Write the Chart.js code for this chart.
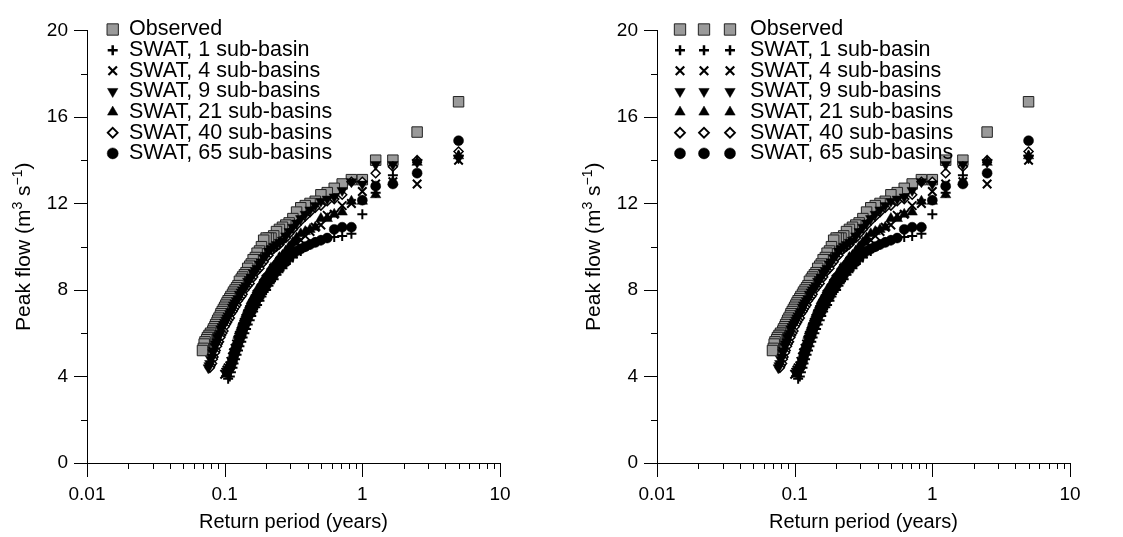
<!DOCTYPE html>
<html>
<head>
<meta charset="utf-8">
<script src="https://cdn.jsdelivr.net/npm/chart.js@4.4.1/dist/chart.umd.min.js"></script>
<style>
  html, body { margin: 0; padding: 0; background: #fff; }
  #wrap { position: relative; width: 1123px; height: 537px; overflow: hidden; }
  canvas { position: absolute; top: 0; }
  #left { left: 0; }
  #right { left: 570px; }
</style>
</head>
<body>
<div id="wrap">
  <canvas id="left" width="553" height="537"></canvas>
  <canvas id="right" width="553" height="537"></canvas>
</div>
<script>
// return period (years) of each ranked peak, largest first
const returnPeriod = [
  5, 2.5, 1.667, 1.25, 1, 0.833, 0.714, 0.625, 0.556, 0.5,
  0.455, 0.417, 0.385, 0.357, 0.333, 0.313, 0.294, 0.278, 0.263, 0.25,
  0.238, 0.227, 0.217, 0.208, 0.2, 0.192, 0.185, 0.179, 0.172, 0.167,
  0.161, 0.156, 0.152, 0.147, 0.143, 0.139, 0.135, 0.132, 0.128, 0.125,
  0.122, 0.119, 0.116, 0.114, 0.111, 0.109, 0.106, 0.104, 0.102, 0.1,
  0.098, 0.096, 0.094, 0.093, 0.091, 0.089, 0.088, 0.086, 0.085, 0.083,
  0.082, 0.081, 0.079, 0.078, 0.077, 0.076, 0.075, 0.074, 0.072, 0.071,
  0.070, 0.069
];

// peak flow (m3/s), same ranking
const observed = [
  16.7, 15.3, 14.0, 14.0, 13.1, 13.1, 12.9, 12.7, 12.5, 12.4,
  12.1, 12.0, 11.9, 11.8, 11.6, 11.3, 11.1, 11.0, 10.9, 10.8,
  10.7, 10.5, 10.4, 10.4, 10.4, 10.3, 10.0, 9.8, 9.7, 9.5,
  9.4, 9.2, 9.1, 9.0, 8.8, 8.7, 8.6, 8.5, 8.4, 8.2,
  8.1, 8.0, 7.9, 7.8, 7.7, 7.6, 7.5, 7.4, 7.3, 7.2,
  7.1, 7.0, 6.9, 6.8, 6.7, 6.6, 6.5, 6.4, 6.3, 6.2,
  6.1, 6.0, 6.0, 5.9, 5.9, 5.8, 5.8, 5.7, 5.6, 5.5, 5.3, 5.2
];
const swat1 = [
  14.2, 13.9, 13.3, 12.5, 11.5, 10.6, 10.5, 10.45, 10.4, 10.3,
  10.2, 10.1, 10.0, 9.8, 9.7, 9.5, 9.4, 9.2, 9.0, 8.9,
  8.7, 8.5, 8.4, 8.2, 8.0, 7.9, 7.7, 7.5, 7.3, 7.2,
  7.0, 6.8, 6.6, 6.4, 6.2, 6.0, 5.8, 5.6, 5.4, 5.2,
  5.0, 4.8, 4.6, 4.4, 4.2, 4.0, 3.9
];
const swat4 = [
  14.0, 12.9, 13.0, 12.9, 12.55, 12.0, 11.9, 11.5, 11.45, 11.0,
  10.9, 10.7, 10.5, 10.3, 10.2, 10.0, 9.8, 9.6, 9.5, 9.3,
  9.1, 9.0, 8.8, 8.6, 8.5, 8.3, 8.1, 7.9, 7.8, 7.6,
  7.4, 7.2, 7.1, 6.9, 6.7, 6.5, 6.3, 6.1, 5.9, 5.7,
  5.5, 5.3, 5.1, 4.9, 4.7, 4.5, 4.4, 4.3, 4.2, 4.1
];
const swat9 = [
  14.1, 13.9, 13.8, 13.8, 12.9, 13.0, 12.6, 12.3, 12.2, 12.1,
  11.9, 11.7, 11.5, 11.3, 11.1, 10.9, 10.7, 10.5, 10.3, 10.2,
  10.1, 10.0, 9.9, 9.8, 9.6, 9.5, 9.3, 9.2, 9.0, 8.9,
  8.8, 8.6, 8.5, 8.4, 8.2, 8.1, 8.0, 7.9, 7.8, 7.6,
  7.5, 7.4, 7.3, 7.2, 7.0, 6.9, 6.8, 6.7, 6.6, 6.5,
  6.4, 6.3, 6.2, 6.0, 5.9, 5.8, 5.6, 5.5, 5.4, 5.2,
  5.1, 4.9, 4.8, 4.6, 4.5, 4.4
];
const swat21 = [
  14.2, 13.9, 13.0, 12.4, 12.1, 12.1, 11.6, 11.5, 11.3, 11.3,
  10.9, 10.8, 10.7, 10.6, 10.4, 10.2, 10.0, 9.8, 9.6, 9.5,
  9.3, 9.1, 9.0, 8.8, 8.6, 8.5, 8.3, 8.1, 8.0, 7.8,
  7.6, 7.5, 7.3, 7.1, 6.9, 6.7, 6.5, 6.3, 6.1, 5.9,
  5.6, 5.4, 5.2, 4.9, 4.7, 4.5, 4.3, 4.1
];
const swat40 = [
  14.4, 14.0, 13.7, 13.4, 13.0, 13.0, 12.4, 12.2, 12.1, 11.9,
  11.8, 11.6, 11.4, 11.2, 11.0, 10.8, 10.6, 10.4, 10.3, 10.1,
  10.0, 9.9, 9.8, 9.6, 9.5, 9.3, 9.2, 9.0, 8.9, 8.8,
  8.6, 8.5, 8.3, 8.2, 8.1, 8.0, 7.8, 7.7, 7.6, 7.5,
  7.3, 7.2, 7.1, 7.0, 6.9, 6.7, 6.6, 6.5, 6.4, 6.3,
  6.1, 6.0, 5.9, 5.8, 5.6, 5.5, 5.4, 5.2, 5.1, 4.9,
  4.8, 4.6, 4.5, 4.4
];
const swat65 = [
  14.9, 13.4, 12.9, 12.8, 12.15, 10.9, 10.9, 10.8, 10.4, 10.3,
  10.2, 10.1, 10.0, 9.9, 9.8, 9.7, 9.5, 9.3, 9.2, 9.0,
  8.9, 8.7, 8.5, 8.4, 8.2, 8.1, 7.9, 7.7, 7.6, 7.4,
  7.2, 7.0, 6.9, 6.7, 6.5, 6.3, 6.1, 5.9, 5.7, 5.5,
  5.3, 5.1, 4.9, 4.7, 4.5, 4.4, 4.3, 4.2
];

const seriesLabels = [
  "Observed", "SWAT, 1 sub-basin", "SWAT, 4 sub-basins", "SWAT, 9 sub-basins",
  "SWAT, 21 sub-basins", "SWAT, 40 sub-basins", "SWAT, 65 sub-basins"
];

// axis ticks
const xMajorTicks = [0.01, 0.1, 1, 10];
const xMajorLabels = ["0.01", "0.1", "1", "10"];
const xMinorSteps = [2, 3, 4, 5, 6, 7, 8, 9];
const yTicks = [0, 2, 4, 6, 8, 10, 12, 14, 16, 18, 20];
const yLabelTicks = [0, 4, 8, 12, 16, 20];

const FONT = "'Liberation Sans', Arial, Helvetica, sans-serif";
Chart.defaults.font.family = FONT;
Chart.defaults.color = "#000";

function pts(values) {
  return values.map((v, i) => ({ x: returnPeriod[i], y: v }));
}

function xTickList() {
  const list = [];
  xMajorTicks.forEach((d, i) => {
    list.push({ value: d, major: true });
    if (i < xMajorTicks.length - 1) xMinorSteps.forEach(s => list.push({ value: +(d * s).toPrecision(3), major: false }));
  });
  return list;
}

// tick marks: long for labelled ticks, short otherwise
const tickMarks = {
  id: "tickMarks",
  afterDraw(chart) {
    const { ctx, scales: { x, y } } = chart;
    ctx.save();
    ctx.strokeStyle = "#000";
    ctx.lineWidth = 1;
    ctx.beginPath();
    x.ticks.forEach(t => {
      const px = Math.round(x.getPixelForValue(t.value)) + 0.5;
      ctx.moveTo(px, y.bottom);
      ctx.lineTo(px, y.bottom + (t.major ? 14 : 6));
    });
    y.ticks.forEach(t => {
      const py = Math.round(y.getPixelForValue(t.value)) + 0.5;
      ctx.moveTo(x.left, py);
      ctx.lineTo(x.left - (yLabelTicks.includes(t.value) ? 13 : 6), py);
    });
    ctx.stroke();
    ctx.restore();
  }
};

// axis titles (y title has superscripts)
const axisTitles = {
  id: "axisTitles",
  afterDraw(chart) {
    const { ctx, chartArea: a } = chart;
    ctx.save();
    ctx.fillStyle = "#000";
    ctx.font = "20px " + FONT;
    ctx.textAlign = "center";
    ctx.textBaseline = "middle";
    ctx.fillText("Return period (years)", (a.left + a.right) / 2, 522);

    const parts = [["Peak flow (m", 0], ["3", 1], [" s", 0], ["\u22121", 1], [")", 0]];
    const fontOf = p => (p[1] ? "14px " : "21px ") + FONT;
    let total = 0;
    parts.forEach(p => { ctx.font = fontOf(p); total += ctx.measureText(p[0]).width; });
    ctx.translate(30, (a.top + a.bottom) / 2);
    ctx.rotate(-Math.PI / 2);
    ctx.textAlign = "left";
    ctx.textBaseline = "alphabetic";
    let u = -total / 2;
    parts.forEach(p => {
      ctx.font = fontOf(p);
      ctx.fillText(p[0], u, p[1] ? -8 : 0);
      u += ctx.measureText(p[0]).width;
    });
    ctx.restore();
  }
};

// legend inside the plot area, markers drawn with Chart.js point helper
const insideLegend = {
  id: "insideLegend",
  afterDraw(chart, args, opts) {
    const ctx = chart.ctx;
    chart.data.datasets.forEach((ds, i) => {
      const yRow = opts.top + i * opts.gap;
      opts.markerX.forEach(mx => {
        ctx.save();
        ctx.fillStyle = ds.pointBackgroundColor;
        ctx.strokeStyle = ds.pointBorderColor;
        ctx.lineWidth = ds.legendBorder;
        Chart.helpers.drawPoint(ctx, {
          pointStyle: ds.pointStyle,
          rotation: ds.pointRotation || 0,
          radius: ds.legendRadius,
          borderWidth: ds.legendBorder
        }, mx, yRow);
        ctx.restore();
      });
      ctx.save();
      ctx.fillStyle = "#000";
      ctx.font = "21.5px " + FONT;
      ctx.textBaseline = "middle";
      ctx.fillText(ds.label, opts.textX, yRow);
      ctx.restore();
    });
  }
};

function makeChart(id, markerX, textX) {
  const datasets = [
    { label: seriesLabels[0], data: pts(observed), order: 1, pointStyle: "rect", pointRadius: 7.4,
      pointBackgroundColor: "#9a9a9a", pointBorderColor: "#222", pointBorderWidth: 1,
      legendRadius: 8, legendBorder: 1 },
    { label: seriesLabels[1], data: pts(swat1), order: 0, pointStyle: "cross", pointRadius: 5,
      pointBackgroundColor: "#000", pointBorderColor: "#000", pointBorderWidth: 2,
      legendRadius: 5, legendBorder: 2.5 },
    { label: seriesLabels[2], data: pts(swat4), order: 0, pointStyle: "crossRot", pointRadius: 6,
      pointBackgroundColor: "#000", pointBorderColor: "#000", pointBorderWidth: 2,
      legendRadius: 6, legendBorder: 2.2 },
    { label: seriesLabels[3], data: pts(swat9), order: 0, pointStyle: "triangle", pointRotation: 180, pointRadius: 6,
      pointBackgroundColor: "#000", pointBorderColor: "#000", pointBorderWidth: 0.5,
      legendRadius: 6, legendBorder: 0.5 },
    { label: seriesLabels[4], data: pts(swat21), order: 0, pointStyle: "triangle", pointRadius: 6,
      pointBackgroundColor: "#000", pointBorderColor: "#000", pointBorderWidth: 0.5,
      legendRadius: 6, legendBorder: 0.5 },
    { label: seriesLabels[5], data: pts(swat40), order: 0, pointStyle: "rectRot", pointRadius: 4.5,
      pointBackgroundColor: "#fff", pointBorderColor: "#000", pointBorderWidth: 1.5,
      legendRadius: 5, legendBorder: 1.8 },
    { label: seriesLabels[6], data: pts(swat65), order: 0, pointStyle: "circle", pointRadius: 5,
      pointBackgroundColor: "#000", pointBorderColor: "#000", pointBorderWidth: 0.5,
      legendRadius: 5.5, legendBorder: 0.5 }
  ];

  return new Chart(document.getElementById(id), {
    type: "scatter",
    data: { datasets },
    options: {
      responsive: false,
      animation: false,
      events: [],
      layout: { padding: { top: 20, right: 53, bottom: 0, left: 0 } },
      scales: {
        x: {
          type: "logarithmic",
          position: "bottom",
          min: 0.01,
          max: 10,
          grid: { display: false, drawTicks: false },
          border: { display: true, color: "#000", width: 1 },
          afterBuildTicks: scale => { scale.ticks = xTickList(); },
          afterFit: scale => { scale.height = 74; },
          ticks: {
            autoSkip: false,
            maxRotation: 0,
            padding: 20,
            font: { size: 19 },
            callback: (v, i, ticks) => {
              const k = xMajorTicks.indexOf(ticks[i].value);
              return k >= 0 ? xMajorLabels[k] : "";
            }
          }
        },
        y: {
          min: 0,
          max: 20,
          grid: { display: false, drawTicks: false },
          border: { display: true, color: "#000", width: 1 },
          afterBuildTicks: scale => { scale.ticks = yTicks.map(v => ({ value: v })); },
          afterFit: scale => { scale.width = 87; },
          ticks: {
            padding: 19,
            font: { size: 19 },
            callback: v => (yLabelTicks.includes(v) ? String(v) : "")
          }
        }
      },
      plugins: {
        legend: { display: false },
        tooltip: { enabled: false },
        insideLegend: { top: 29.5, gap: 20.65, markerX, textX }
      }
    },
    plugins: [tickMarks, axisTitles, insideLegend]
  });
}

makeChart("left", [112.7], 129);
makeChart("right", [110, 134, 160], 180);
</script>
</body>
</html>
